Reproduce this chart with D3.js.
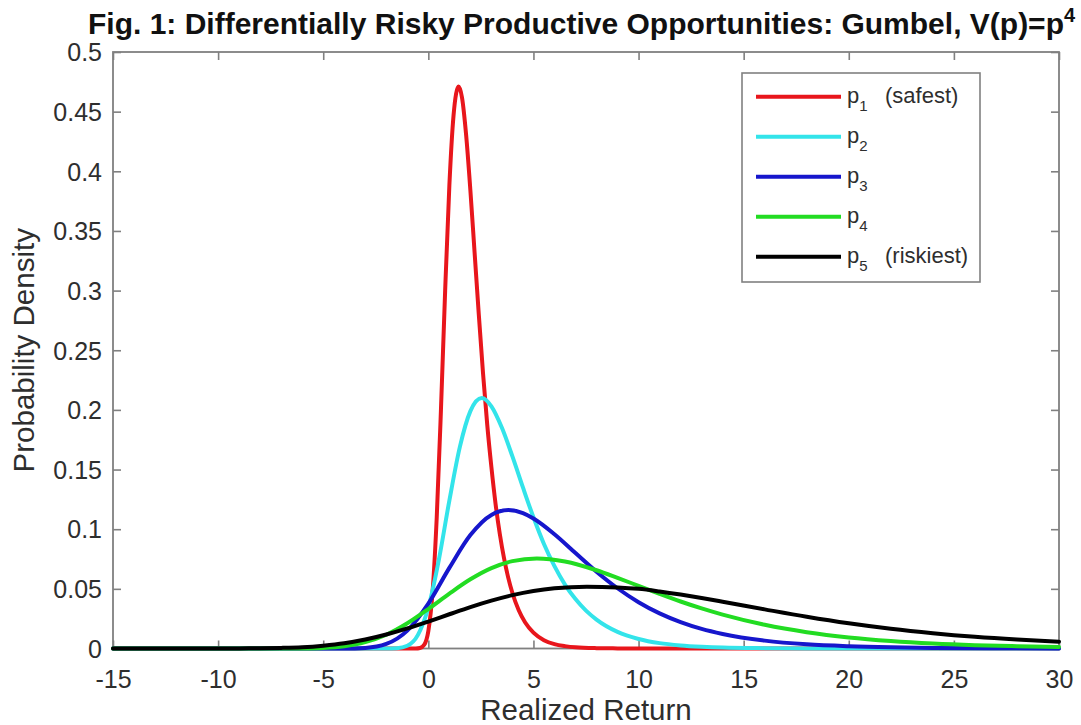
<!DOCTYPE html>
<html>
<head>
<meta charset="utf-8">
<script src="https://cdn.jsdelivr.net/npm/d3@7"></script>
<style>
  html, body { margin: 0; padding: 0; background: #fff; }
  svg { display: block; font-family: "Liberation Sans", Arial, Helvetica, sans-serif; }
</style>
</head>
<body>
<svg id="chart" width="1081" height="725"></svg>
<script>
// Tick values and labels
const xTicks = [-15, -10, -5, 0, 5, 10, 15, 20, 25, 30];
const xTickLabels = ["-15", "-10", "-5", "0", "5", "10", "15", "20", "25", "30"];
const yTicks = [0, 0.05, 0.1, 0.15, 0.2, 0.25, 0.3, 0.35, 0.4, 0.45, 0.5];
const yTickLabels = ["0", "0.05", "0.1", "0.15", "0.2", "0.25", "0.3", "0.35", "0.4", "0.45", "0.5"];

// Density curves: realized return (x) and probability density (y) for each opportunity
const p1X = [-15, -1, -0.6, -0.4, -0.2, 0, 0.2, 0.4, 0.6, 0.8, 1.0, 1.2, 1.44, 1.6, 1.8, 2.0, 2.2, 2.4, 2.6, 2.8, 3.0, 3.2, 3.4, 3.6, 3.8, 4.0, 4.3, 4.6, 5.0, 5.5, 6.0, 6.5, 7.0, 8.0, 9.0, 10, 12, 30];
const p1Y = [0, 0, 0, 0.0004, 0.0030, 0.0146, 0.047, 0.110, 0.200, 0.300, 0.388, 0.447, 0.471, 0.462, 0.430, 0.384, 0.332, 0.280, 0.231, 0.188, 0.152, 0.121, 0.096, 0.0757, 0.0594, 0.0465, 0.0320, 0.0220, 0.0133, 0.0070, 0.0037, 0.0020, 0.0010, 0.0003, 0.0001, 0, 0, 0];

const p2X = [-15, -3, -2, -1.5, -1, -0.5, 0, 0.5, 1, 1.5, 2, 2.54, 3, 3.5, 4, 4.5, 5, 5.5, 6, 6.5, 7, 7.5, 8, 9, 10, 11, 12, 13, 14, 16, 18, 20, 30];
const p2Y = [0, 0, 0, 0.0003, 0.0023, 0.0112, 0.0343, 0.0743, 0.124, 0.169, 0.199, 0.210, 0.203, 0.185, 0.161, 0.135, 0.110, 0.0876, 0.0690, 0.0536, 0.0414, 0.0317, 0.0242, 0.0139, 0.0080, 0.0045, 0.0026, 0.0015, 0.0008, 0.0003, 0.0001, 0, 0];

const p3X = [-15, -5, -4, -3, -2, -1, 0, 1, 2, 3, 3.81, 4.5, 5, 6, 7, 8, 9, 10, 11, 12, 13, 14, 16, 18, 20, 22, 24, 27, 30];
const p3Y = [0, 0, 0, 0.0005, 0.0038, 0.0150, 0.0377, 0.0676, 0.0951, 0.112, 0.116, 0.1135, 0.109, 0.0958, 0.0800, 0.0644, 0.0505, 0.0388, 0.0294, 0.0221, 0.0164, 0.0122, 0.0066, 0.0035, 0.0019, 0.0010, 0.0005, 0.0002, 0.0001];

const p4X = [-15, -8, -7, -6, -5, -4, -3, -2, -1, 0, 1, 2, 3, 4, 5.16, 6.5, 8, 9, 10, 11, 12, 13, 14, 16, 18, 20, 22, 24, 26, 28, 30];
const p4Y = [0, 0, 0, 0.0001, 0.0005, 0.0019, 0.0053, 0.0115, 0.0211, 0.0331, 0.0460, 0.0580, 0.0674, 0.0732, 0.0755, 0.0730, 0.0656, 0.0592, 0.0525, 0.0458, 0.0394, 0.0336, 0.0284, 0.0199, 0.0137, 0.0093, 0.0063, 0.0042, 0.0028, 0.0019, 0.0012];

const p5X = [-15, -12, -10, -9, -8, -7, -6, -5, -4, -3, -2, -1, 0, 1, 2, 3, 4, 5, 6, 7.54, 9, 10, 11, 12, 13, 14, 16, 18, 20, 22, 24, 26, 28, 30];
const p5Y = [0, 0, 0, 0.0001, 0.0002, 0.0005, 0.0011, 0.0024, 0.0044, 0.0075, 0.0117, 0.0168, 0.0226, 0.0287, 0.0347, 0.0401, 0.0447, 0.0482, 0.0505, 0.0518, 0.0512, 0.0500, 0.0478, 0.0452, 0.0423, 0.0392, 0.0328, 0.0266, 0.0211, 0.0165, 0.0128, 0.0098, 0.0075, 0.0057];

const seriesSubs = ["1", "2", "3", "4", "5"];
const seriesNotes = ["(safest)", "", "", "", "(riskiest)"];
const seriesColors = ["#e8161c", "#33e4ea", "#1616cc", "#22dc22", "#000000"];
const seriesX = [p1X, p2X, p3X, p4X, p5X];
const seriesY = [p1Y, p2Y, p3Y, p4Y, p5Y];

const W = 1081, H = 725;
const plot = { left: 113, right: 1059, top: 52, bottom: 648.5 };
const axisColor = "#808080";
const textColor = "#2e2e2e";

const svg = d3.select("#chart");
svg.append("rect").attr("width", W).attr("height", H).attr("fill", "#fff");

const x = d3.scaleLinear().domain([-15, 30]).range([plot.left, plot.right]);
const y = d3.scaleLinear().domain([0, 0.5]).range([plot.bottom, plot.top]);

// Axes box with inward ticks on all four sides
const tickLen = 8;
function styleAxis(g) {
  g.select(".domain").remove();
  g.selectAll(".tick line").attr("stroke", axisColor).attr("stroke-width", 1.6);
  g.selectAll(".tick text").attr("fill", textColor).style("font-size", "25px")
    .style("font-family", "'Liberation Sans', Arial, Helvetica, sans-serif");
}

const gx = svg.append("g").attr("transform", `translate(0,${plot.bottom})`)
  .call(d3.axisBottom(x).tickValues(xTicks).tickFormat((d, i) => xTickLabels[i])
    .tickSizeInner(-tickLen).tickSizeOuter(0));
styleAxis(gx);
gx.selectAll(".tick text").attr("y", 39.5).attr("dy", 0);

svg.append("g").attr("transform", `translate(0,${plot.top})`)
  .call(d3.axisTop(x).tickValues(xTicks).tickFormat("").tickSizeInner(-tickLen).tickSizeOuter(0))
  .call(styleAxis);

const gy = svg.append("g").attr("transform", `translate(${plot.left},0)`)
  .call(d3.axisLeft(y).tickValues(yTicks).tickFormat((d, i) => yTickLabels[i])
    .tickSizeInner(-tickLen).tickSizeOuter(0));
styleAxis(gy);
gy.selectAll(".tick text").attr("x", -11).attr("dy", "0.35em");

svg.append("g").attr("transform", `translate(${plot.right},0)`)
  .call(d3.axisRight(y).tickValues(yTicks).tickFormat("").tickSizeInner(-tickLen).tickSizeOuter(0))
  .call(styleAxis);

svg.append("rect")
  .attr("x", plot.left).attr("y", plot.top)
  .attr("width", plot.right - plot.left).attr("height", plot.bottom - plot.top)
  .attr("fill", "none").attr("stroke", axisColor).attr("stroke-width", 1.8);

// Curves
svg.append("clipPath").attr("id", "plotClip").append("rect")
  .attr("x", plot.left - 3).attr("y", plot.top)
  .attr("width", plot.right - plot.left + 6).attr("height", plot.bottom - plot.top + 4);

const line = d3.line().x(d => x(d[0])).y(d => y(d[1])).curve(d3.curveMonotoneX);
const curves = svg.append("g").attr("clip-path", "url(#plotClip)");
seriesX.forEach((xs, i) => {
  curves.append("path")
    .datum(d3.zip(xs, seriesY[i]))
    .attr("d", line)
    .attr("fill", "none")
    .attr("stroke", seriesColors[i])
    .attr("stroke-width", 4)
    .attr("stroke-linejoin", "round")
    .attr("stroke-linecap", "round");
});

// Legend
const legend = { left: 742, top: 73, width: 238, height: 209, rowTop: 96.7, rowGap: 40 };
const lg = svg.append("g");
lg.append("rect")
  .attr("x", legend.left).attr("y", legend.top)
  .attr("width", legend.width).attr("height", legend.height)
  .attr("fill", "#fff").attr("stroke", axisColor).attr("stroke-width", 1.6);
seriesSubs.forEach((sub, i) => {
  const ry = legend.rowTop + i * legend.rowGap;
  lg.append("line")
    .attr("x1", 756).attr("x2", 841).attr("y1", ry).attr("y2", ry)
    .attr("stroke", seriesColors[i]).attr("stroke-width", 4);
  const t = lg.append("text").attr("x", 847).attr("y", ry + 6)
    .attr("fill", textColor).style("font-size", "22px");
  t.append("tspan").text("p");
  t.append("tspan").attr("dy", 8).style("font-size", "15px").text(sub);
  if (seriesNotes[i]) {
    t.append("tspan").attr("x", 885).attr("dy", -8).text(seriesNotes[i]);
  }
});

// Title and axis labels
const title = svg.append("text").attr("x", 88).attr("y", 34)
  .attr("fill", "#111").style("font-size", "30px").style("font-weight", "bold");
title.append("tspan").text("Fig. 1: Differentially Risky Productive Opportunities: Gumbel, V(p)=p");
title.append("tspan").attr("dy", -12).style("font-size", "20px").text("4");

svg.append("text").attr("x", (plot.left + plot.right) / 2).attr("y", 720)
  .attr("text-anchor", "middle").attr("fill", textColor).style("font-size", "29.5px")
  .text("Realized Return");

svg.append("text")
  .attr("transform", `translate(34,${(plot.top + plot.bottom) / 2}) rotate(-90)`)
  .attr("text-anchor", "middle").attr("fill", textColor).style("font-size", "29.5px")
  .text("Probability Density");
</script>
</body>
</html>
